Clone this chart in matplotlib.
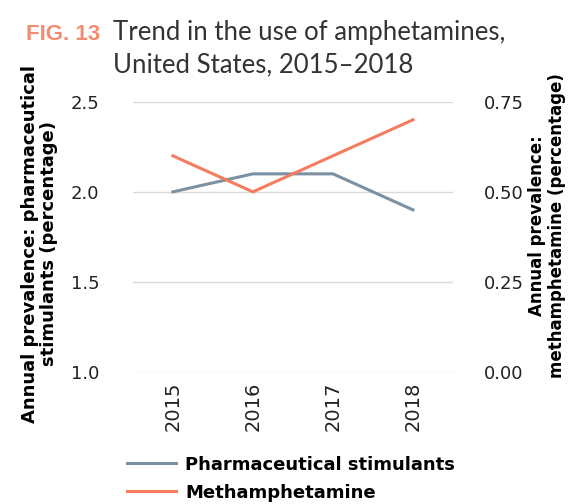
import matplotlib.pyplot as plt
import numpy as np

years = ['2015', '2016', '2017', '2018']
pharma = [2.0, 2.1, 2.1, 1.9]
meth = [0.6, 0.5, 0.6, 0.7]

c_pharma = '#7a91a3'
c_meth = '#f47d60'

fig = plt.figure(figsize=(5.8, 5.04), dpi=100)
ax = fig.add_axes([0.229, 0.262, 0.552, 0.536])
ax2 = ax.twinx()

x = np.arange(len(years))
l1, = ax.plot(x, pharma, color=c_pharma, lw=2.2)
l2, = ax2.plot(x, meth, color=c_meth, lw=2.2)

ax.set_xlim(-0.5, 3.5)
ax.set_ylim(1.0, 2.5)
ax.set_yticks([1.0, 1.5, 2.0, 2.5])
ax.set_yticklabels(['1.0', '1.5', '2.0', '2.5'])
ax2.set_ylim(0, 0.75)
ax2.set_yticks([0, 0.25, 0.5, 0.75])
ax2.set_yticklabels(['0.00', '0.25', '0.50', '0.75'])
ax.set_xticks(x)
ax.set_xticklabels(years, rotation=90)

ax.grid(axis='y', color='#d9d9d9', lw=1)
ax.set_axisbelow(True)
for a in (ax, ax2):
    for s in a.spines.values():
        s.set_visible(False)
    a.tick_params(length=0, labelsize=13, colors='#222222')
ax.tick_params(axis='y', pad=24)
ax2.tick_params(axis='y', pad=22)
ax.tick_params(axis='x', pad=7, labelsize=14)

ax.set_ylabel('Annual prevalence: pharmaceutical\nstimulants (percentage)',
              fontsize=13, fontweight='bold', linespacing=1.1)
ax.yaxis.set_label_coords(-0.234, 0.474)
ax2.set_ylabel('Annual prevalence:\nmethamphetamine (percentage)',
               fontsize=12, fontweight='bold', linespacing=1.15, rotation=90)
ax2.yaxis.set_label_position('right')
ax2.yaxis.set_label_coords(1.234, 0.541)

fig.text(0.045, 1 - 40 / 504, 'FIG. 13', color='#f58b70', fontsize=16,
         fontweight='bold', family='Liberation Sans', va='baseline')
fig.text(0.195, 1 - 40 / 504, 'Trend in the use of amphetamines,', color='#333333',
         fontsize=18.5, family='Lato', va='baseline')
fig.text(0.195, 1 - 72 / 504, 'United States, 2015\u20132018', color='#333333',
         fontsize=18.5, family='Lato', va='baseline')

fig.legend([l1, l2], ['Pharmaceutical stimulants', 'Methamphetamine'],
           loc='upper left', bbox_to_anchor=(0.207, 0.11), frameon=False,
           prop={'weight': 'bold', 'size': 13}, handlelength=2.7,
           labelspacing=0.55, borderaxespad=0, handletextpad=0.5)

fig.savefig('out.png', dpi=100)
